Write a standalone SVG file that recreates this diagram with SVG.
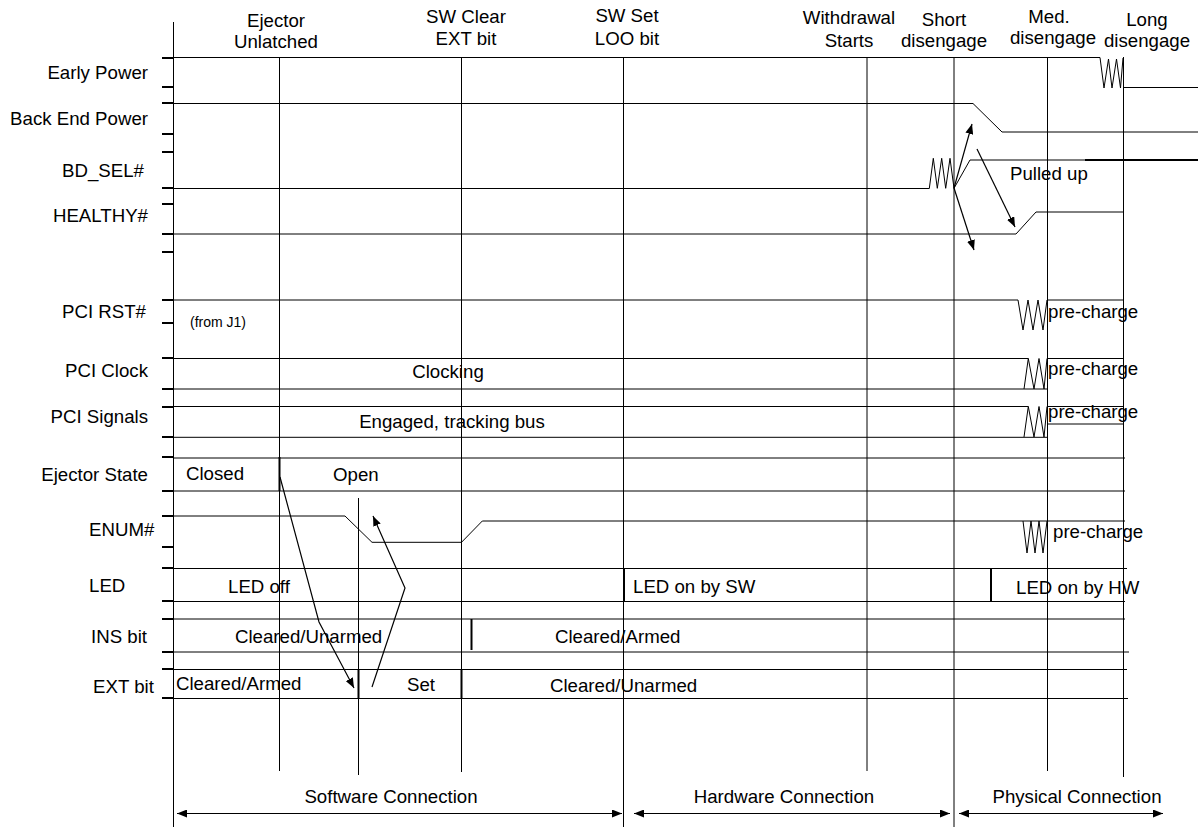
<svg xmlns="http://www.w3.org/2000/svg" width="1201" height="827" viewBox="0 0 1201 827">
<defs>
<style>
text{font-family:"Liberation Sans",Arial,sans-serif;font-size:18.67px;fill:#000}
.end{text-anchor:end}
.mid{text-anchor:middle}
.small{font-size:14px}
.ln{stroke:#000;stroke-width:1;fill:none}
.bold{stroke:#000;stroke-width:2;fill:none}
.tick{stroke:#000;stroke-width:2}
.arr{stroke:#000;stroke-width:1.2;fill:none;marker-end:url(#ah)}
.dbl{stroke:#000;stroke-width:1.2;fill:none;marker-end:url(#ah);marker-start:url(#ah)}
</style>
<marker id="ah" viewBox="0 0 10 8" refX="10" refY="4" markerWidth="10" markerHeight="8" markerUnits="userSpaceOnUse" orient="auto-start-reverse">
<path d="M0,0 L10,4 L0,8 z" fill="#000"/>
</marker>
</defs>
<rect width="1201" height="827" fill="#fff"/>

<g id="grid" class="ln">
<line x1="173.5" y1="22" x2="173.5" y2="827"/>
<line x1="279.5" y1="57" x2="279.5" y2="771"/>
<line x1="358.5" y1="498" x2="358.5" y2="775"/>
<line x1="461.5" y1="57" x2="461.5" y2="772"/>
<line x1="623.5" y1="57" x2="623.5" y2="827"/>
<line x1="867" y1="57" x2="867" y2="771"/>
<line x1="954" y1="57" x2="954" y2="827"/>
<line x1="1047.5" y1="57" x2="1047.5" y2="771"/>
<line x1="1123.5" y1="57" x2="1123.5" y2="777"/>
</g>

<g id="ticks" class="tick">
<line x1="162" y1="58" x2="173" y2="58"/>
<line x1="162" y1="87" x2="173" y2="87"/>
<line x1="162" y1="103" x2="173" y2="103"/>
<line x1="162" y1="134" x2="173" y2="134"/>
<line x1="162" y1="152" x2="173" y2="152"/>
<line x1="162" y1="188" x2="173" y2="188"/>
<line x1="162" y1="204" x2="173" y2="204"/>
<line x1="162" y1="234" x2="173" y2="234"/>
<line x1="162" y1="252" x2="173" y2="252"/>
<line x1="162" y1="300" x2="173" y2="300"/>
<line x1="162" y1="323" x2="173" y2="323"/>
<line x1="162" y1="358" x2="173" y2="358"/>
<line x1="162" y1="389" x2="173" y2="389"/>
<line x1="162" y1="407" x2="173" y2="407"/>
<line x1="162" y1="437" x2="173" y2="437"/>
<line x1="162" y1="457" x2="173" y2="457"/>
<line x1="162" y1="491" x2="173" y2="491"/>
<line x1="162" y1="516" x2="173" y2="516"/>
<line x1="162" y1="547" x2="173" y2="547"/>
<line x1="162" y1="568" x2="173" y2="568"/>
<line x1="162" y1="601" x2="173" y2="601"/>
<line x1="162" y1="619" x2="173" y2="619"/>
<line x1="162" y1="652" x2="173" y2="652"/>
<line x1="162" y1="669" x2="173" y2="669"/>
<line x1="162" y1="698" x2="173" y2="698"/>
</g>

<g id="header">
<text class="mid" x="276" y="26.7">Ejector</text>
<text class="mid" x="276" y="48.3">Unlatched</text>
<text class="mid" x="466" y="22.7">SW Clear</text>
<text class="mid" x="466" y="45">EXT bit</text>
<text class="mid" x="627" y="21.7">SW Set</text>
<text class="mid" x="627" y="45">LOO bit</text>
<text class="mid" x="849" y="24">Withdrawal</text>
<text class="mid" x="849" y="46.7">Starts</text>
<text class="mid" x="944" y="26">Short</text>
<text class="mid" x="944" y="46.7">disengage</text>
<text class="mid" x="1049" y="23.3">Med.</text>
<text class="mid" x="1053" y="44.3">disengage</text>
<text class="mid" x="1147" y="26">Long</text>
<text class="mid" x="1147" y="46.7">disengage</text>
</g>

<g id="row-labels">
<text class="end" x="148" y="79.3">Early Power</text>
<text class="end" x="148" y="125">Back End Power</text>
<text class="end" x="144" y="176.7">BD_SEL#</text>
<text class="end" x="148" y="221.7">HEALTHY#</text>
<text class="end" x="146" y="318.3">PCI RST#</text>
<text class="end" x="148" y="376.7">PCI Clock</text>
<text class="end" x="148" y="423.3">PCI Signals</text>
<text class="end" x="148" y="480.7">Ejector State</text>
<text x="89" y="535.7">ENUM#</text>
<text x="89" y="591.7">LED</text>
<text x="91" y="642.7">INS bit</text>
<text x="93" y="692.7">EXT bit</text>
</g>

<g id="early-power" class="ln">
<polyline points="173,57.5 1100,57.5 1104,88 1108.5,59 1112,88 1116.5,59 1120.5,88 1123,58"/>
<line x1="1124" y1="87.5" x2="1198" y2="87.5"/>
</g>

<g id="back-end-power" class="ln">
<polyline points="173,103.5 973,103.5 1002,132 1198,132"/>
</g>

<g id="bd-sel">
<polyline class="ln" points="173,188.5 929.3,188.5 933.3,158.3 937.3,188.3 941.7,158.3 945.7,188.3 950,158.3 954,188.3 970,160 1085,160"/>
<line class="bold" x1="1085" y1="160" x2="1198" y2="160"/>
<text x="1010" y="180">Pulled up</text>
</g>

<g id="healthy" class="ln">
<polyline points="173,234 1016,234 1036,212 1124,212"/>
</g>

<g id="pci-rst">
<polyline class="ln" points="173,300 1018,300 1023,330 1028,300 1033,330 1038,300 1043,330 1047,300 1123,300"/>
<text class="small" x="190" y="326.7">(from J1)</text>
<text x="1048" y="318.3">pre-charge</text>
</g>

<g id="pci-clock">
<polyline class="ln" points="173,358.5 1028.3,358.5"/>
<polyline class="ln" points="1024,389 1028.3,358.5 1034,389 1039,358.5 1044,389 1047,358.5 1123,358.5"/>
<line class="ln" x1="173" y1="389" x2="1047" y2="389"/>
<text class="mid" x="448" y="378.3">Clocking</text>
<text x="1048" y="375">pre-charge</text>
</g>

<g id="pci-signals">
<polyline class="ln" points="173,406.5 1028.3,406.5"/>
<polyline class="ln" points="1024,437 1028.3,406.5 1034,437 1039,406.5 1044,437 1047,406.5 1123,406.5"/>
<line class="ln" x1="173" y1="437.3" x2="1047" y2="437.3"/>
<line class="ln" x1="1047" y1="424" x2="1123" y2="424"/>
<text class="mid" x="452" y="428.3">Engaged, tracking bus</text>
<text x="1048" y="418.3">pre-charge</text>
</g>

<g id="ejector-state">
<line class="ln" x1="173" y1="458" x2="1125" y2="458"/>
<line class="ln" x1="173" y1="491" x2="1125" y2="491"/>
<line class="bold" x1="279.5" y1="457" x2="279.5" y2="491"/>
<text x="186" y="480">Closed</text>
<text x="333" y="480.7">Open</text>
</g>

<g id="enum">
<polyline class="ln" points="173,516 345,516 372,542.3 461.5,542.3 482.3,521 1125,521"/>
<polyline class="ln" points="1023,521 1027,553 1031,521 1035,553 1039,521 1043,553 1047,521"/>
<text x="1053" y="538.3">pre-charge</text>
</g>

<g id="led">
<line class="ln" x1="173" y1="568.5" x2="1127" y2="568.5"/>
<line class="ln" x1="173" y1="601.5" x2="1125" y2="601.5"/>
<line class="bold" x1="624" y1="568" x2="624" y2="602"/>
<line class="bold" x1="991" y1="568" x2="991" y2="602"/>
<text x="228" y="592.7">LED off</text>
<text x="633" y="592.7">LED on by SW</text>
<text x="1016" y="594">LED on by HW</text>
</g>

<g id="ins-bit">
<line class="ln" x1="173" y1="619" x2="1125" y2="619"/>
<line class="ln" x1="173" y1="652" x2="1129" y2="652"/>
<line class="bold" x1="471.5" y1="619" x2="471.5" y2="650"/>
<text x="235" y="642.7">Cleared/Unarmed</text>
<text x="555" y="642.7">Cleared/Armed</text>
</g>

<g id="ext-bit">
<line class="ln" x1="173" y1="669.5" x2="1127" y2="669.5"/>
<line class="ln" x1="173" y1="698.5" x2="1128" y2="698.5"/>
<line class="bold" x1="358.5" y1="669" x2="358.5" y2="699"/>
<line class="bold" x1="461.5" y1="669" x2="461.5" y2="699"/>
<text x="176" y="690">Cleared/Armed</text>
<text x="407" y="690.7">Set</text>
<text x="550" y="691.7">Cleared/Unarmed</text>
</g>

<g id="connectors">
<polyline class="arr" points="280,477 319,622 354,688"/>
<polyline class="arr" points="372,687 405,588 373,516"/>
<line class="arr" x1="954" y1="188" x2="972" y2="124"/>
<line class="arr" x1="954" y1="188" x2="974" y2="250"/>
<line class="arr" x1="977" y1="149" x2="1015" y2="227"/>
<line class="dbl" x1="177" y1="813.5" x2="622" y2="813.5"/>
<line class="dbl" x1="634" y1="813.5" x2="950" y2="813.5"/>
<line class="dbl" x1="959" y1="813.5" x2="1163" y2="813.5"/>
</g>

<g id="phases">
<text class="mid" x="391" y="803">Software Connection</text>
<text class="mid" x="784" y="803">Hardware Connection</text>
<text class="mid" x="1077" y="803">Physical Connection</text>
</g>
</svg>
